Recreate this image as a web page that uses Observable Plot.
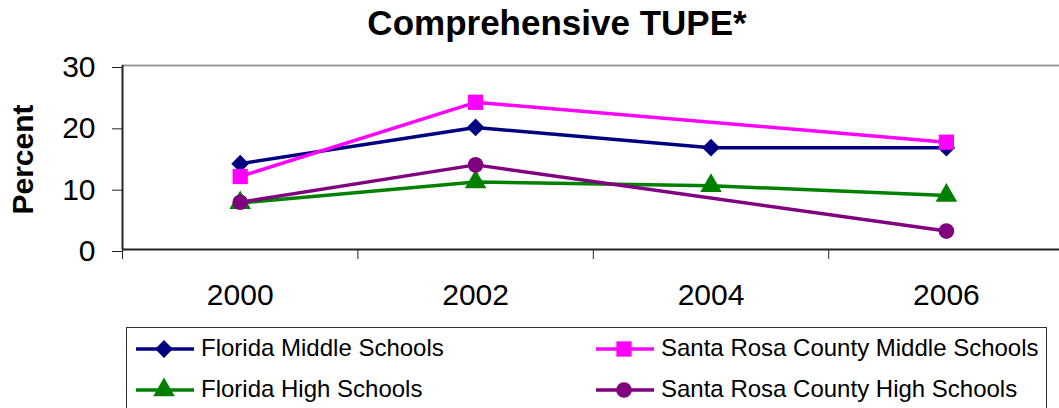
<!DOCTYPE html>
<html>
<head>
<meta charset="utf-8">
<script src="https://cdn.jsdelivr.net/npm/d3@7"></script>
<script src="https://cdn.jsdelivr.net/npm/@observablehq/plot@0.6"></script>
<style>
  html, body { margin: 0; padding: 0; background: #fff; }
  body { position: relative; width: 1059px; height: 408px; overflow: hidden; font-family: "Liberation Sans", Arial, sans-serif; }
  #title { height: 55px; box-sizing: border-box; padding-top: 5px; font-size: 35px; line-height: 35px; font-weight: bold; text-align: center; width: 1114px; color: #000; }
  #chart svg { display: block; overflow: visible; }
  #legend { position: absolute; left: 126px; top: 327px; width: 921px; height: 120px; border: 1.5px solid #333; box-sizing: border-box; }
  .item { position: absolute; height: 24px; }
  .item svg { position: absolute; left: 0; top: 0; overflow: visible; }
  .item span { position: absolute; white-space: nowrap; font-size: 24px; line-height: 24px; color: #000; }
</style>
</head>
<body>
<div id="title">Comprehensive TUPE*</div>
<div id="chart"></div>
<div id="legend"></div>
<script>
const years = [2000, 2002, 2004, 2006];
const seriesNames = ["Florida Middle Schools", "Santa Rosa County Middle Schools", "Florida High Schools", "Santa Rosa County High Schools"];
const floridaMiddle = [14.0, 19.9, 16.6, 16.6];
const santaRosaMiddle = [11.9, 24.0, null, 17.5];
const floridaHigh = [7.6, 11.0, 10.4, 8.8];
const santaRosaHigh = [7.7, 13.8, null, 3.0];
const yTicks = [0, 10, 20, 30];
const colors = ["#000080", "#FF00FF", "#008000", "#800080"];
const symbols = ["diamond2", "square", "triangle", "circle"];
const radii = [8.0, 8.6, 8.0, 7.8];

const seriesValues = [floridaMiddle, santaRosaMiddle, floridaHigh, santaRosaHigh];
const series = seriesNames.map((name, i) => ({
  name,
  data: years.map((year, j) => ({ year, value: seriesValues[i][j] })).filter(d => d.value != null)
}));

const marks = [
  Plot.ruleY([30], { stroke: "#999", strokeWidth: 2 }),
  Plot.axisY(yTicks, { tickSize: 10, tickPadding: 17, fontSize: 30, dy: 2, label: null, stroke: "#222" }),
  Plot.axisX([2000, 2002, 2004, 2006], { tickSize: 0, tickPadding: 34, fontSize: 30, label: null, tickFormat: d => String(d) }),
  Plot.axisX([1999, 2001, 2003, 2005, 2007], { tickSize: 10, tickFormat: () => "", label: null, stroke: "#222" }),
  Plot.ruleY([0], { stroke: "#222", strokeWidth: 2 }),
  Plot.ruleX([1999], { stroke: "#222", strokeWidth: 2 }),
  Plot.text(["Percent"], { x: () => 1999, y: () => 15, rotate: -90, dx: -99, dy: 2, fontSize: 30, fontWeight: "bold", fill: "#000" })
];
series.forEach((s, i) => {
  marks.push(Plot.line(s.data, { x: "year", y: "value", stroke: colors[i], strokeWidth: 3.5 }));
  marks.push(Plot.dot(s.data, { x: "year", y: "value", fill: colors[i], stroke: "none", symbol: symbols[i], r: radii[i] }));
});

const chart = Plot.plot({
  width: 1059,
  height: 265,
  marginTop: 10,
  marginBottom: 71,
  marginLeft: 122,
  marginRight: 0,
  style: { fontFamily: "'Liberation Sans', Arial, sans-serif", color: "#000", background: "transparent" },
  x: { type: "linear", domain: [1999, 2007], range: [122, 1063.6] },
  y: { domain: [0, 30] },
  marks
});
document.getElementById("chart").appendChild(chart);

// Legend
const legend = document.getElementById("legend");
const positions = [
  { lx: 135 - 126, ly: 335 - 327, tx: 200 - 126 },
  { lx: 595 - 126, ly: 335 - 327, tx: 660 - 126 },
  { lx: 135 - 126, ly: 376 - 327, tx: 200 - 126 },
  { lx: 595 - 126, ly: 376 - 327, tx: 660 - 126 }
];
const symbolTypes = { diamond2: d3.symbolDiamond2, square: d3.symbolSquare, triangle: d3.symbolTriangle, circle: d3.symbolCircle };
seriesNames.forEach((name, i) => {
  const p = positions[i];
  const item = document.createElement("div");
  item.className = "item";
  item.style.left = p.lx + "px";
  item.style.top = p.ly + "px";
  const sym = d3.symbol(symbolTypes[symbols[i]], Math.PI * radii[i] * radii[i])();
  item.innerHTML = `<svg width="58" height="24"><line x1="0" x2="58" y1="13" y2="13" stroke="${colors[i]}" stroke-width="3.5"/><path d="${sym}" transform="translate(28,13)" fill="${colors[i]}"/></svg><span style="left:${p.tx - p.lx}px;top:0">${name}</span>`;
  legend.appendChild(item);
});
</script>
</body>
</html>
